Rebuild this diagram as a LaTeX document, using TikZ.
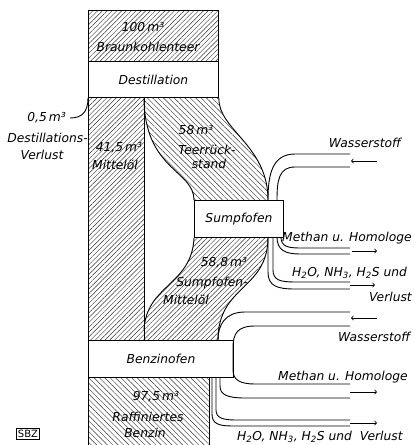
\documentclass[tikz,border=0pt]{standalone}
\usepackage{fontspec}
\setmainfont{DejaVu Sans}
\usetikzlibrary{positioning,patterns.meta,arrows}
\tikzstyle{process-box} = [rectangle, draw=black, fill=white, line width=0.9pt, inner sep=0pt, anchor=north west, minimum height=36pt]
\tikzstyle{hatch-ne} = [pattern={Lines[angle=45,distance=3.4pt,line width=0.45pt]}, pattern color=black!80]
\tikzstyle{hatch-nw} = [pattern={Lines[angle=-45,distance=3.8pt,line width=0.45pt]}, pattern color=black!80]
\tikzstyle{boundary} = [line width=0.9pt]
\tikzstyle{pipe} = [line width=0.9pt]
\tikzstyle{flow-arrow} = [->,>=to,line width=0.8pt]
\tikzstyle{flow-text} = [inner sep=0pt]

\begin{document}
\begin{tikzpicture}[x=1pt,y=-1pt,font=\fontsize{12.3}{14}\selectfont\itshape]
    \useasboundingbox (0,0) rectangle (413,445);

    % hatched streams
    \path[hatch-ne] (88,10) rectangle (218,61);
    \path[hatch-ne] (88,97) rectangle (144,340);
    \path[hatch-nw] (144,97) -- (218,97) .. controls (218,130) and (268,145) .. (268,200) -- (194,200) .. controls (194,170) and (144,170) .. (144,97) -- cycle;
    \path[hatch-ne] (194,237) -- (268,237) .. controls (268,290) and (218,285) .. (218,340) -- (144,340) -- (144,330) .. controls (146,285) and (192,285) .. (194,237) -- cycle;
    \path[hatch-nw] (88,377) rectangle (209,445);

    % ovens
    \node (destillation) [process-box, minimum width=130pt] at (88,61) {Destillation};
    \node (sumpfofen) [process-box, minimum width=89pt, minimum height=37pt] at (194,200) {Sumpfofen};
    \node (benzinofen) [process-box, minimum width=145pt, minimum height=37pt] at (88,340) {Benzinofen};

    \coordinate (loss-end) at (70,118);
    \coordinate (teer-left) at (144,97);
    \coordinate (mittel-join) at (144,330);

    % stream borders
    \draw[boundary] (88,61) -- (88,10) -- (218,10) -- (218,61);
    \draw[boundary] (destillation.south west) -- (88,445);
    \draw[boundary] (teer-left) -- (benzinofen.north west -| teer-left);
    \draw[boundary] (destillation.south west) .. controls (88,112) and (82,118) .. (loss-end);
    \draw[boundary] (teer-left) .. controls (144,170) and (194,170) .. (sumpfofen.north west);
    \draw[boundary] (destillation.south east) .. controls (218,130) and (268,145) .. (268,200);
    \draw[boundary] (sumpfofen.south west) .. controls (192,285) and (146,285) .. (mittel-join);
    \draw[boundary] (268,237) .. controls (268,290) and (218,285) .. (218,340);
    \draw[boundary] (209,377) -- (209,445);

    % pipes at Sumpfofen
    \draw[pipe] (350,154) -- (295,154) .. controls (272,154) and (268,175) .. (268,200);
    \draw[pipe] (350,167) -- (295,167) .. controls (279,167) and (277,180) .. (277,200);
    \draw[pipe] (281,237) .. controls (281,246) and (287,248) .. (300,248) -- (350,248);
    \draw[pipe] (277,237) .. controls (277,250) and (285,254) .. (300,254) -- (350,254);
    \draw[pipe] (273,237) -- (273,270) .. controls (273,280) and (280,282) .. (295,282) -- (350,282);
    \draw[pipe] (268,237) -- (268,272) .. controls (268,286) and (277,289) .. (295,289) -- (350,289);

    % pipes at Benzinofen
    \draw[pipe] (350,312) -- (245,312) .. controls (225,312) and (218,325) .. (218,340);
    \draw[pipe] (350,326) -- (255,326) .. controls (237,326) and (233,334) .. (233,348) -- (233,370) .. controls (233,380) and (240,384) .. (255,384) -- (350,384);
    \draw[pipe] (220,377) -- (220,386) .. controls (220,395) and (228,398) .. (245,398) -- (350,398);
    \draw[pipe] (216,377) -- (216,410) .. controls (216,418) and (223,420) .. (236,420) -- (350,420);
    \draw[pipe] (212,377) -- (212,414) .. controls (212,424) and (219,426) .. (233,426) -- (350,426);

    % direction arrows
    \draw[flow-arrow] (377,161) -- (351,161);
    \draw[flow-arrow] (352,251) -- (377,251);
    \draw[flow-arrow] (350,285) -- (375,285);
    \draw[flow-arrow] (377,318) -- (351,318);
    \draw[flow-arrow] (350,392) -- (377,392);
    \draw[flow-arrow] (350,423) -- (377,423);

    % texts
    \node (teer-amount) [flow-text] at (143,27) {100\,m³};
    \node (teer-name) [flow-text] at (148,47) {Braunkohlenteer};
    \node (loss-amount) [flow-text, anchor=east] at (66,118) {0,5\,m³};
    \node (loss-name) [flow-text, anchor=east] at (88,138) {Destillations-};
    \node (loss-name2) [flow-text] at (42,155) {Verlust};
    \node (mittel-amount) [flow-text] at (119,148) {41,5\,m³};
    \node (mittel-name) [flow-text] at (115,165) {Mittelöl};
    \node (rueck-amount) [flow-text] at (196,130) {58\,m³};
    \node (rueck-name) [flow-text] at (207,150) {Teerrück-};
    \node (rueck-name2) [flow-text] at (209,164) {stand};
    \node (sumpf-amount) [flow-text] at (224,263) {58,8\,m³};
    \node (sumpf-name) [flow-text] at (212,283) {Sumpfofen-};
    \node (sumpf-name2) [flow-text] at (186,300) {Mittelöl};
    \node (benzin-amount) [flow-text] at (156,397) {97,5\,m³};
    \node (benzin-name) [flow-text] at (148,417) {Raffiniertes};
    \node (benzin-name2) [flow-text] at (145,433) {Benzin};

    \node (h2-sumpf) [flow-text] at (365,143) {Wasserstoff};
    \node (methan-sumpf) [flow-text, anchor=east] at (412,238) {Methan u. Homologe};
    \node (rest-sumpf) [flow-text, anchor=west] at (292,273) {H\textsubscript{2}O, NH\textsubscript{3}, H\textsubscript{2}S und};
    \node (rest-sumpf2) [flow-text, anchor=east] at (412,297) {Verlust};
    \node (h2-benzin) [flow-text, anchor=west] at (338,337) {Wasserstoff};
    \node (methan-benzin) [flow-text, anchor=west] at (278,377) {Methan u. Homologe};
    \node (rest-benzin) [flow-text, anchor=west] at (237,437) {H\textsubscript{2}O, NH\textsubscript{3}, H\textsubscript{2}S und\ \ Verlust};

    \node (sbz) [draw, line width=0.6pt, inner sep=1.5pt, font=\fontsize{10}{11}\selectfont\upshape] at (28,434) {SBZ};
\end{tikzpicture}
\end{document}
